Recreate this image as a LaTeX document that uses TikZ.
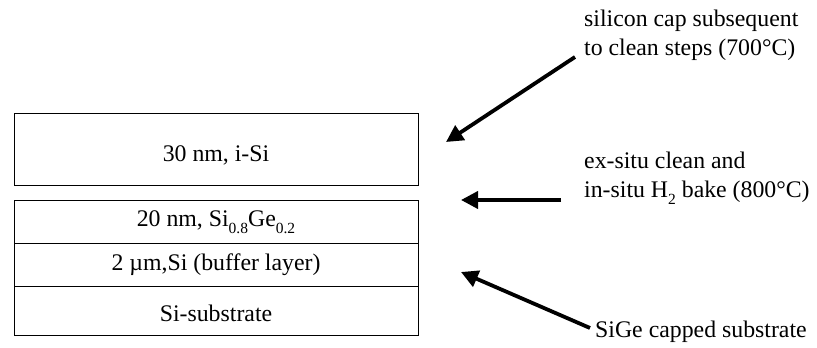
\documentclass[tikz,border=0pt]{standalone}
\usepackage{fontspec}
\setmainfont{Liberation Serif}
\usetikzlibrary{arrows.meta}
\newcommand\lowsub[1]{\raisebox{-0.28em}{\fontsize{15.5}{15.5}\selectfont #1}}
\begin{document}
\begin{tikzpicture}[x=1pt,y=-1pt,
  every node/.style={font=\fontsize{23.8}{29}\selectfont, inner sep=0pt},
  layer/.style={draw=black, line width=1pt, minimum width=404pt, anchor=north west},
  note/.style={align=left, anchor=west},
  bigarrow/.style={line width=3.8pt, -{Triangle[length=17pt,width=17pt]}}]
\useasboundingbox (0,0) rectangle (817,348);
% layers
\node[layer, minimum height=72pt] (cap) at (13.5,113) {};
\node (captext) at ([yshift=-6pt]cap.center) {30 nm, i-Si};
\node[layer, minimum height=43pt] (sige) at (13.5,200) {20 nm, Si\lowsub{0.8}Ge\lowsub{0.2}};
\node[layer, minimum height=43pt] (buf) at (13.5,243) {2 µm,Si (buffer layer)};
\node[layer, minimum height=49pt] (sub) at (13.5,286) {};
\node (subtext) at ([yshift=-2pt]sub.center) {Si-substrate};
% notes
\node[note] (n1) at (584,35) {silicon cap subsequent\\to clean steps (700°C)};
\node[note] (n2) at (584,178) {ex-situ clean and\\in-situ H\lowsub{2} bake (800°C)};
\node[note] (n3) at (595,332) {SiGe capped substrate};
% arrow ends
\coordinate (a1s) at (575,57);
\coordinate (a1t) at (446,142);
\coordinate (a2s) at (561,200);
\coordinate (a2t) at (461,200);
\coordinate (a3s) at (590,328);
\coordinate (a3t) at (461,272);
\draw[bigarrow] (a1s) -- (a1t);
\draw[bigarrow] (a2s) -- (a2t);
\draw[bigarrow] (a3s) -- (a3t);
\end{tikzpicture}
\end{document}
